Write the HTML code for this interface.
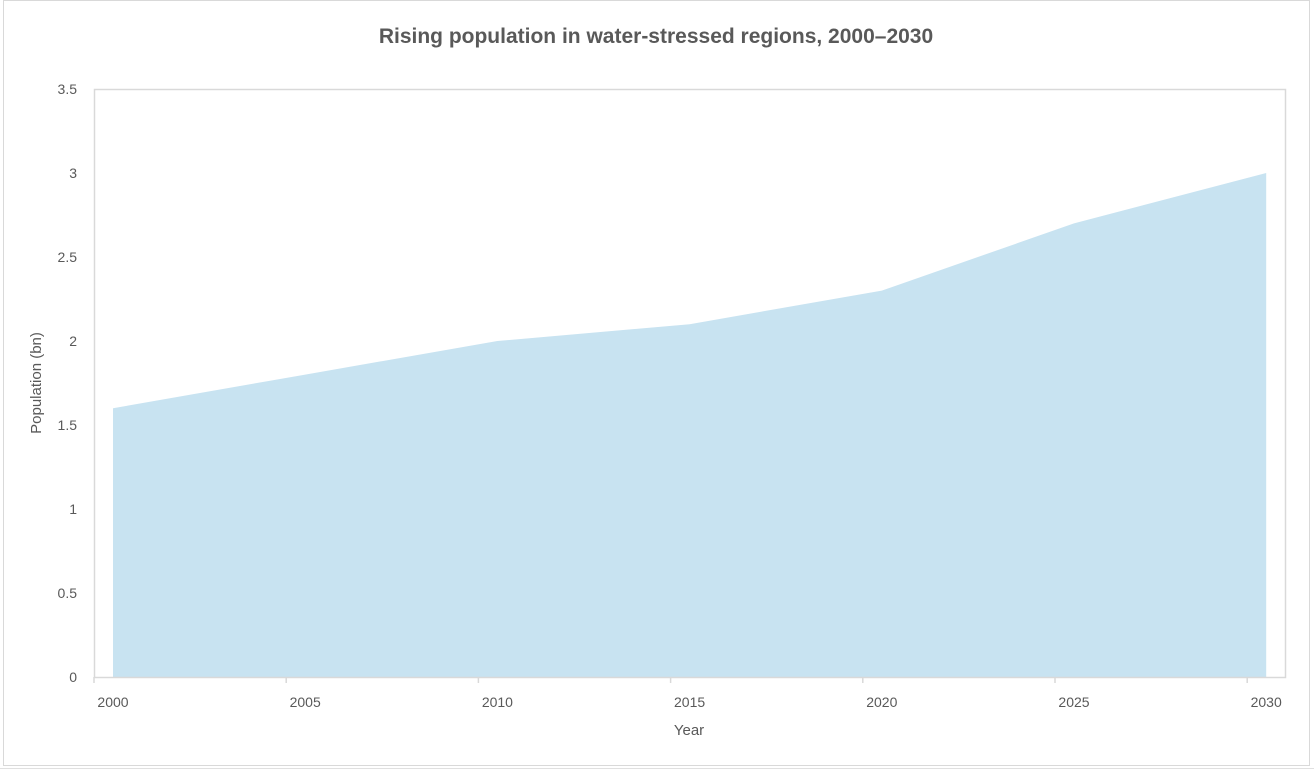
<!DOCTYPE html>
<html><head><meta charset="utf-8">
<style>
html,body{margin:0;padding:0;background:#fff;width:1314px;height:770px;overflow:hidden;font-family:"Liberation Sans",Arial,sans-serif;}
</style></head>
<body>
<svg id="chart" width="1314" height="770" xmlns="http://www.w3.org/2000/svg">
  <rect x="3.5" y="0.5" width="1306" height="765" fill="#fff" stroke="#d9d9d9"/>
  <line x1="0" y1="768.5" x2="1314" y2="768.5" stroke="#e0e0e0"/>
  <text x="656" y="43" text-anchor="middle" font-size="21" font-weight="bold" fill="#595959">Rising population in water-stressed regions, 2000–2030</text>
  <g id="plot"></g>
  <text x="689" y="735" text-anchor="middle" font-size="15" fill="#595959">Year</text>
  <text transform="translate(41,383) rotate(-90)" text-anchor="middle" font-size="15" fill="#595959">Population (bn)</text>
</svg>
<script>
const years = [2000, 2005, 2010, 2015, 2020, 2025, 2030];
const population = [1.6, 1.8, 2.0, 2.1, 2.3, 2.7, 3.0];
const yTicks = [0, 0.5, 1, 1.5, 2, 2.5, 3, 3.5];

const NS = "http://www.w3.org/2000/svg";
const plot = document.getElementById('plot');
const L = 94, R = 1286, T = 89, B = 677, yMax = 3.5;
const step = 192.2;
const xData = i => 113 + i * step;
const xTick = i => L + i * step;
const y = v => B - (v / yMax) * (B - T);

function mk(tag, attrs) {
  const e = document.createElementNS(NS, tag);
  for (const k in attrs) e.setAttribute(k, attrs[k]);
  plot.appendChild(e);
  return e;
}

// area
let d = `M${xData(0)},${B}`;
population.forEach((v, i) => { d += ` L${xData(i)},${y(v)}`; });
d += ` L${xData(population.length - 1)},${B} Z`;
const area = mk('path', {d: d, fill: '#c8e3f1'});



// plot border
const frame = mk('rect', {x: L + 0.5, y: T + 0.5, width: R - L - 1, height: B - T, fill: 'none', stroke: '#d9d9d9', 'stroke-width': 1.5});



// y ticks
yTicks.forEach(t => {
  const tx = mk('text', {x: 77, y: y(t) + 5, 'text-anchor': 'end', 'font-size': 14, fill: '#595959'});
  tx.textContent = t;
  
  
});

// x ticks
years.forEach((yr, i) => {
  const ln = mk('line', {x1: xTick(i), x2: xTick(i), y1: B, y2: B + 6, stroke: '#d9d9d9', 'stroke-width': 1.5});
  
  
  const tx = mk('text', {x: xData(i), y: B + 30, 'text-anchor': 'middle', 'font-size': 14, fill: '#595959'});
  tx.textContent = yr;
  
  
});
</script>
</body></html>
